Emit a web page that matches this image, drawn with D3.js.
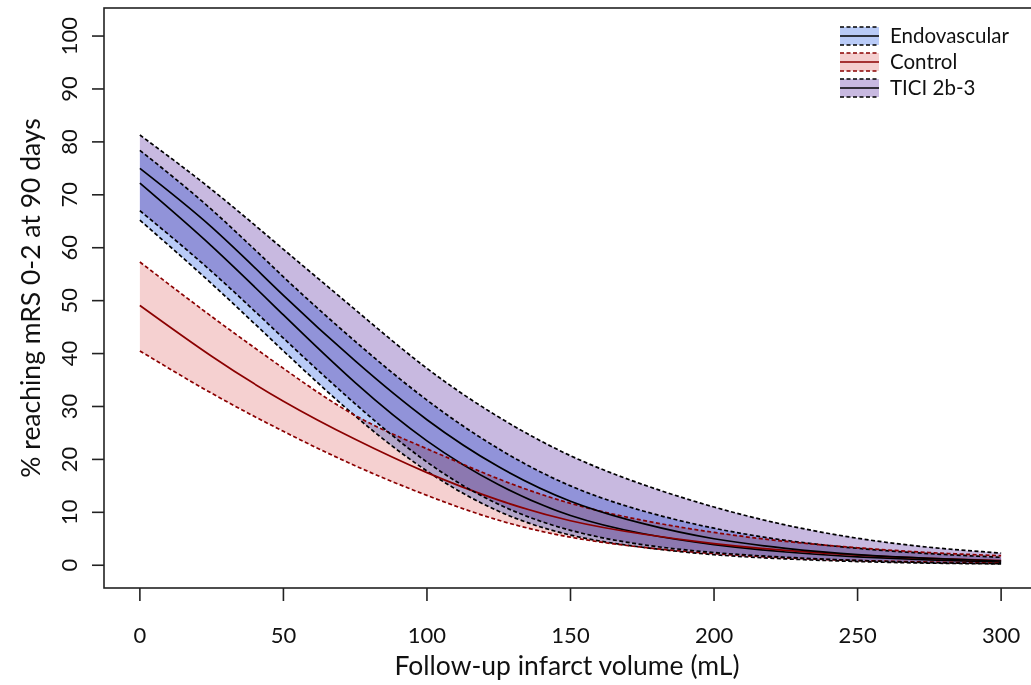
<!DOCTYPE html>
<html>
<head>
<meta charset="utf-8">
<script src="https://d3js.org/d3.v7.min.js"></script>
<style>
  body { margin: 0; background: #fff; }
  svg text { font-family: Lato, "Open Sans", sans-serif; fill: #111; }
  .band { mix-blend-mode: multiply; }
</style>
</head>
<body>
<svg id="chart"></svg>
<script>
  var width = 1031, height = 685;

  // follow-up infarct volume (mL)
  var volumes = [0, 25, 50, 75, 100, 125, 150, 175, 200, 225, 250, 275, 300];

  // % reaching mRS 0-2
  var endoUpper = [78.4, 67.2, 54.5, 42.3, 31.2, 22.0, 15.0, 10.3, 7.0, 4.7, 3.2, 2.2, 1.5];
  var endoMid   = [72.2, 60.3, 47.3, 34.5, 23.5, 15.2, 9.4, 6.0, 3.9, 2.5, 1.6, 1.0, 0.6];
  var endoLower = [65.2, 53.2, 40.5, 28.2, 17.8, 10.2, 5.7, 3.4, 2.0, 1.2, 0.7, 0.4, 0.25];

  var ctrlUpper = [57.3, 47.0, 37.2, 28.3, 22.0, 16.3, 11.7, 8.5, 6.2, 4.5, 3.3, 2.4, 1.8];
  var ctrlMid   = [49.1, 39.5, 31.0, 23.8, 17.5, 12.3, 8.4, 5.9, 4.1, 2.8, 1.9, 1.3, 0.9];
  var ctrlLower = [40.5, 32.5, 25.3, 18.8, 13.2, 8.5, 5.3, 3.4, 2.2, 1.4, 0.9, 0.6, 0.4];

  var ticiUpper = [81.3, 71.0, 59.7, 48.3, 37.2, 28.0, 20.7, 15.3, 11.0, 7.6, 5.1, 3.4, 2.3];
  var ticiMid   = [75.0, 63.9, 51.0, 38.6, 27.5, 18.6, 12.1, 7.9, 5.0, 3.2, 2.0, 1.3, 0.8];
  var ticiLower = [67.0, 55.5, 42.9, 30.5, 19.5, 11.5, 6.6, 3.9, 2.4, 1.5, 0.9, 0.5, 0.3];

  var xTicks = [0, 50, 100, 150, 200, 250, 300];
  var yTicks = [0, 10, 20, 30, 40, 50, 60, 70, 80, 90, 100];

  var groups = [
    { name: "Endovascular", upper: endoUpper, mid: endoMid, lower: endoLower, fill: "#b9cbf7", line: "#000" },
    { name: "Control",      upper: ctrlUpper, mid: ctrlMid, lower: ctrlLower, fill: "#f5d0d0", line: "#8b0000" },
    { name: "TICI 2b-3",    upper: ticiUpper, mid: ticiMid, lower: ticiLower, fill: "#c8b9e0", line: "#000" }
  ];

  var svg = d3.select("#chart").attr("width", width).attr("height", height);

  var x = d3.scaleLinear().domain([-12.5, 312.5]).range([104, 1037]);
  var y = d3.scaleLinear().domain([-4.3, 105.3]).range([588, 8]);

  function pts(arr) {
    return arr.map(function(v, i) { return [volumes[i], v]; });
  }

  var line = d3.line()
    .x(function(d) { return x(d[0]); })
    .y(function(d) { return y(d[1]); })
    .curve(d3.curveNatural);

  var area = d3.area()
    .x(function(d, i) { return x(volumes[i]); })
    .y0(function(d) { return y(d[0]); })
    .y1(function(d) { return y(d[1]); })
    .curve(d3.curveNatural);

  var plot = svg.append("g");

  // bands first
  groups.forEach(function(g) {
    var band = g.lower.map(function(v, i) { return [v, g.upper[i]]; });
    plot.append("path")
      .attr("class", "band")
      .attr("d", area(band))
      .attr("fill", g.fill);
  });

  // then the lines
  groups.forEach(function(g) {
    [g.upper, g.lower].forEach(function(arr) {
      plot.append("path")
        .attr("d", line(pts(arr)))
        .attr("fill", "none")
        .attr("stroke", g.line)
        .attr("stroke-width", 1.7)
        .attr("stroke-dasharray", "4,2.5");
    });
    plot.append("path")
      .attr("d", line(pts(g.mid)))
      .attr("fill", "none")
      .attr("stroke", g.line)
      .attr("stroke-width", 1.7);
  });

  // box
  svg.append("rect")
    .attr("x", 104).attr("y", 8)
    .attr("width", 1040 - 104).attr("height", 588 - 8)
    .attr("fill", "none")
    .attr("stroke", "#222")
    .attr("stroke-width", 1.6);

  // y axis
  var yAxis = svg.append("g");
  yTicks.forEach(function(t) {
    yAxis.append("line")
      .attr("x1", 92).attr("x2", 104)
      .attr("y1", y(t)).attr("y2", y(t))
      .attr("stroke", "#222").attr("stroke-width", 1.6);
    yAxis.append("text")
      .attr("transform", "translate(77," + y(t) + ") rotate(-90)")
      .attr("text-anchor", "middle")
      .style("font-size", "22px")
      .text(t);
  });

  // x axis
  var xAxis = svg.append("g");
  xTicks.forEach(function(t) {
    xAxis.append("line")
      .attr("x1", x(t)).attr("x2", x(t))
      .attr("y1", 588).attr("y2", 601)
      .attr("stroke", "#222").attr("stroke-width", 1.6);
    xAxis.append("text")
      .attr("x", x(t)).attr("y", 643)
      .attr("text-anchor", "middle")
      .style("font-size", "22px")
      .text(t);
  });

  svg.append("text")
    .attr("x", 567).attr("y", 675)
    .attr("text-anchor", "middle")
    .style("font-size", "26.5px")
    .text("Follow-up infarct volume (mL)");

  svg.append("text")
    .attr("transform", "translate(40,298) rotate(-90)")
    .attr("text-anchor", "middle")
    .style("font-size", "26.5px")
    .text("% reaching mRS 0-2 at 90 days");

  // legend
  var legend = svg.append("g").attr("transform", "translate(840,27)");
  groups.forEach(function(g, i) {
    var row = legend.append("g").attr("transform", "translate(0," + (i * 26) + ")");
    row.append("rect")
      .attr("x", 0).attr("y", 0).attr("width", 39).attr("height", 18)
      .attr("fill", g.fill);
    [0, 18].forEach(function(yy) {
      row.append("line")
        .attr("x1", 0).attr("x2", 39).attr("y1", yy).attr("y2", yy)
        .attr("stroke", g.line).attr("stroke-width", 1.7)
        .attr("stroke-dasharray", "4,2.5");
    });
    row.append("line")
      .attr("x1", 0).attr("x2", 39).attr("y1", 9).attr("y2", 9)
      .attr("stroke", g.line).attr("stroke-width", 1.7);
    row.append("text")
      .attr("x", 50).attr("y", 16)
      .style("font-size", "20.5px")
      .text(g.name);
  });
</script>
</body>
</html>
